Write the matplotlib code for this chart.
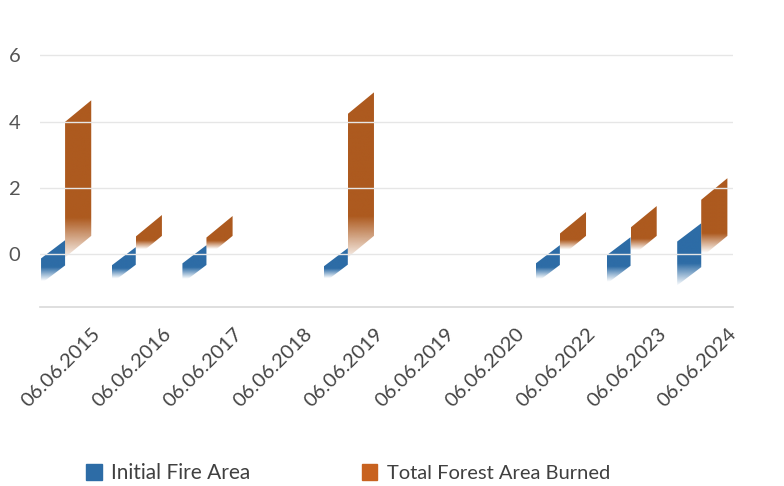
import numpy as np
import matplotlib.pyplot as plt
from matplotlib.patches import Polygon, Rectangle
from matplotlib.colors import to_rgb

# data (height of the bar's back top edge)
dates = ["06.06.2015", "06.06.2016", "06.06.2017", "06.06.2018", "06.06.2019",
         "06.06.2019", "06.06.2020", "06.06.2022", "06.06.2023", "06.06.2024"]
initial_fire = [0.42, 0.21, 0.27, 0, 0.18, 0, 0, 0.27, 0.51, 0.93]
total_burned = [4.64, 1.18, 1.15, 0, 4.88, 0, 0, 1.27, 1.45, 2.29]

blue = "#2d6ca6"
orange = "#ad5a1f"

plt.rcParams['font.family'] = ['Lato', 'DejaVu Sans']

fig = plt.figure(figsize=(7.84, 4.86), dpi=100)
ax = fig.add_axes([0.051, 0.368, 0.884, 0.532])
xlim = (-0.735, 9.07)
ylim = (-1.6, 6.2)


def skew_bar(ax, x0, x1, bottom, top, slant, color, fade_h, base_alpha):
    # parallelogram "3d" face, fading out over fade_h units at the bottom
    verts = [(x0, bottom), (x1, bottom + slant), (x1, top + slant), (x0, top)]
    poly = Polygon(verts, closed=True, facecolor='none', edgecolor='none')
    ax.add_patch(poly)
    n = 300
    ys = np.linspace(bottom, top + slant, n)
    grad = np.zeros((n, 1, 4))
    grad[..., :3] = to_rgb(color)
    d = ys - (bottom + slant / 2)
    grad[:, 0, 3] = np.clip(base_alpha + d / fade_h, 0, 1)
    im = ax.imshow(grad, origin='lower', aspect='auto',
                   extent=(x0, x1, bottom, top + slant), interpolation='bilinear')
    im.set_clip_path(poly)


for i in range(len(dates)):
    b = initial_fire[i]
    o = total_burned[i]
    if b > 0:
        top = b - 0.55
        depth = 0.3 + 1.1 * b
        skew_bar(ax, i - 0.72, i - 0.38, top - depth, top, 0.55, blue, 0.2 + 0.5 * b, 0.45)
    if o > 0:
        h = o - 0.65
        skew_bar(ax, i - 0.38, i - 0.01, -0.1, h, 0.65, orange, 0.1 + 0.3 * h, 0.35)

ax.set_xlim(*xlim)
ax.set_ylim(*ylim)

for y in [0, 2, 4, 6]:
    ax.axhline(y, color='#e6e6e6', lw=1, zorder=0)

for s in ['top', 'right', 'left']:
    ax.spines[s].set_visible(False)
ax.spines['bottom'].set_color('#d9d9d9')
ax.spines['bottom'].set_linewidth(1.2)

ax.set_yticks([0, 2, 4, 6])
ax.set_yticklabels(['0', '2', '4', '6'], fontsize=14.5, color='#555555')
ax.tick_params(axis='y', length=0, pad=14)

ax.set_xticks(range(len(dates)))
ax.set_xticklabels(dates, rotation=45, ha='right', va='top', rotation_mode='anchor',
                   fontsize=14.5, color='#444444')
ax.tick_params(axis='x', length=0, pad=13)

# legend drawn by hand to match position
fig.patches.append(Rectangle((86 / 784, 1 - 480 / 486), 16 / 784, 16 / 486,
                             transform=fig.transFigure, color=blue))
fig.text(111 / 784, 1 - 479 / 486, "Initial Fire Area", fontsize=15, color='#404040',
         va='baseline', ha='left')
fig.patches.append(Rectangle((362 / 784, 1 - 480 / 486), 15 / 784, 16 / 486,
                             transform=fig.transFigure, color='#c8621f'))
fig.text(387 / 784, 1 - 479 / 486, "Total Forest Area Burned", fontsize=14.5, color='#404040',
         va='baseline', ha='left')

fig.savefig("out.png", dpi=100, facecolor='white')
